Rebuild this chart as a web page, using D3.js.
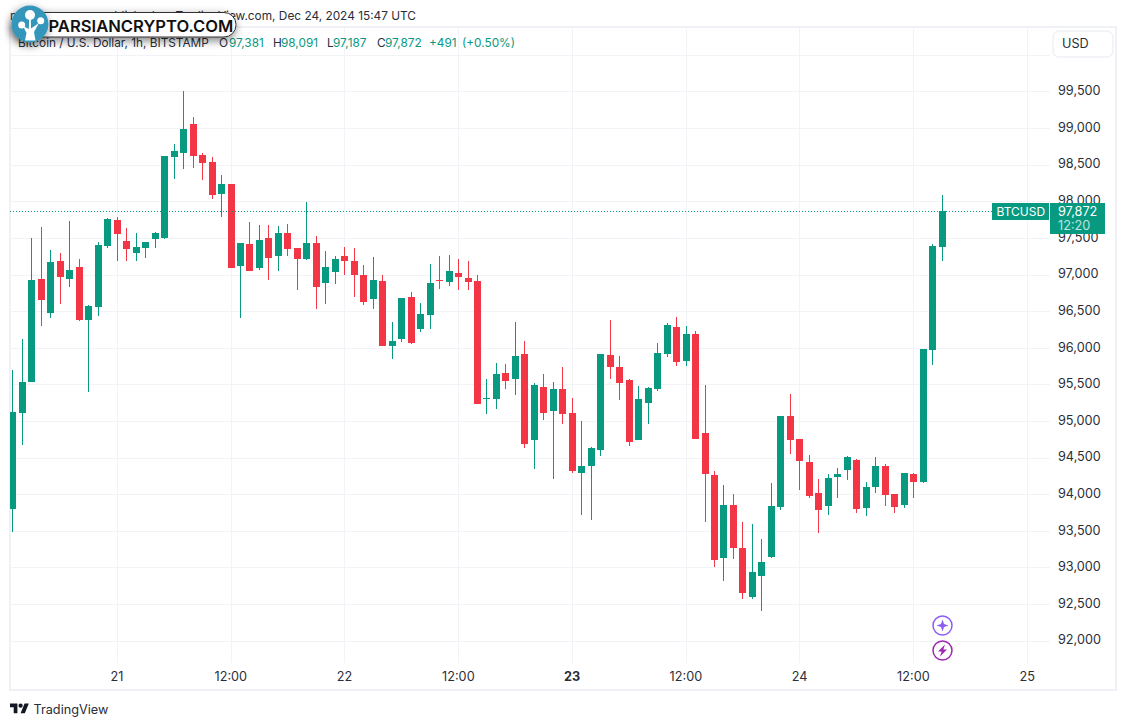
<!DOCTYPE html>
<html>
<head>
<meta charset="utf-8">
<script src="https://cdn.jsdelivr.net/npm/d3@7"></script>
<style>
html,body{margin:0;padding:0;background:#fff;}
svg{display:block;font-family:Inter,"Noto Sans",sans-serif;}
</style>
</head>
<body>
<svg id="chart" width="1127" height="726"></svg>
<script>
// hourly candles, first one is Dec 20 13:00 UTC
var startHour = Date.UTC(2024,11,20,13);

var opens = [93802,95113,95536,96939,96479,97185,96943,97103,96383,96561,97394,97745,97458,97298,97366,97489,97503,98609,98664,99056,
98632,98537,98104,98236,97121,97417,97093,97499,97257,97567,97362,97216,97431,96888,97039,97253,97185,96994,96670,96912,
96028,96124,96693,96260,96451,96925,96902,97021,96953,96912,95304,95304,95655,95577,95915,94744,95464,95140,95437,95109,
94294,94389,94608,95901,95737,95560,94744,95250,95441,95919,96283,95823,96188,94836,94262,93133,93853,93266,92600,92887,
93147,93829,95068,94754,94440,94017,93843,94239,94335,94467,93816,94103,94385,94003,93857,94276,94171,95973,97381];
var highs = [95696,96120,97499,97649,97335,97294,97731,97212,96584,97444,97770,97786,97635,97567,97450,97575,98625,98782,99506,99151,
98660,98605,98359,98240,97435,97717,97676,97676,97663,97690,97365,97990,97526,97321,97253,97376,97362,97130,97239,96994,
96352,96685,96761,96611,97144,97253,97267,97212,97185,96994,95573,95792,95778,96352,96092,95519,95642,95532,95737,95314,
95000,94645,95920,96379,95887,95573,95478,95464,96065,96338,96420,96297,96229,95491,94317,94126,94003,93621,93593,93388,
94153,95075,95368,94760,94535,94208,94276,94358,94522,94481,94167,94508,94413,94010,94295,94290,95988,97417,98091];
var lows = [93488,94676,95536,96301,96410,96602,96834,96369,95400,96438,97366,97189,97189,97189,97230,97366,97489,98309,98445,98459,
98295,98036,97790,97088,96410,97045,97066,96929,97052,97257,96793,97202,96533,96602,96875,96998,96697,96588,96533,96020,
95851,96083,96055,96219,96260,96806,96847,96793,96793,95230,95099,95168,95441,95359,94635,94348,95018,94212,94963,94294,
93720,93652,94526,95577,95291,94662,94738,94963,95414,95878,95755,95755,94752,93625,93010,92819,93119,92573,92573,92409,
93133,93789,94553,94062,93952,93474,93720,93952,94198,93747,93707,94021,93843,93747,93816,93952,94157,95769,97187];
var closes = [95123,95532,96925,96656,97171,96970,97062,96383,96570,97403,97758,97558,97353,97376,97444,97567,98619,98687,98987,98623,
98527,98090,98236,97093,97431,97052,97472,97230,97567,97353,97216,97431,96834,97103,97212,97189,96998,96629,96925,96028,
96092,96679,96069,96461,96884,96916,97048,96970,96902,95236,95314,95642,95550,95887,94690,95491,95113,95437,95099,94321,
94385,94631,95915,95741,95523,94717,95300,95450,95928,96311,95810,96188,94758,94280,93106,93853,93270,92655,92938,93074,
93839,95068,94744,94458,93980,93789,94221,94276,94508,93802,94098,94385,93993,93829,94290,94171,95983,97390,97872];

var priceTicks = [92000,92500,93000,93500,94000,94500,95000,95500,96000,96500,97000,97500,98000,98500,99000,99500];
var gridPrices = priceTicks.concat([100000]);
var timeTicks = [
    {t:Date.UTC(2024,11,21,0),  label:"21",    bold:false},
    {t:Date.UTC(2024,11,21,12), label:"12:00", bold:false},
    {t:Date.UTC(2024,11,22,0),  label:"22",    bold:false},
    {t:Date.UTC(2024,11,22,12), label:"12:00", bold:false},
    {t:Date.UTC(2024,11,23,0),  label:"23",    bold:true},
    {t:Date.UTC(2024,11,23,12), label:"12:00", bold:false},
    {t:Date.UTC(2024,11,24,0),  label:"24",    bold:false},
    {t:Date.UTC(2024,11,24,12), label:"12:00", bold:false},
    {t:Date.UTC(2024,11,25,0),  label:"25",    bold:false}
];
var lastPrice = 97872;
var legendNames = ["O","H","L","C"];
var legendValues = ["97,381","98,091","97,187","97,872"];

var UP = "#089981", DOWN = "#f23645", GRID = "#f2f3f6", TEXT = "#2a2e39";

var svg = d3.select("#chart");
var pane = {left:10, right:1050, top:27, bottom:663};

var xScale = d3.scaleUtc()
    .domain([new Date(Date.UTC(2024,11,21)), new Date(Date.UTC(2024,11,25))])
    .range([117.27, 1027.35]);
var yScale = d3.scaleLinear()
    .domain([92000,98000])
    .range([640.7,201.3]);

var candles = opens.map(function(o,i)
{
    return {t:new Date(startHour + i*3600000), o:o, h:highs[i], l:lows[i], c:closes[i]};
});

svg.append("defs").append("clipPath").attr("id","paneClip")
    .append("rect")
    .attr("x",pane.left).attr("y",pane.top)
    .attr("width",pane.right-pane.left).attr("height",pane.bottom-pane.top);

// outer frame
svg.append("rect")
    .attr("x",10).attr("y",27).attr("width",1106).attr("height",663)
    .attr("fill","none").attr("stroke","#f0f1f6").attr("stroke-width",2);

// grid
var grid = svg.append("g").attr("shape-rendering","crispEdges");
grid.selectAll(".h").data(gridPrices).enter().append("line")
    .attr("x1",pane.left).attr("x2",pane.right)
    .attr("y1",function(d){return Math.round(yScale(d))+0.5;})
    .attr("y2",function(d){return Math.round(yScale(d))+0.5;})
    .attr("stroke",GRID);
grid.selectAll(".v").data(timeTicks).enter().append("line")
    .attr("y1",pane.top).attr("y2",pane.bottom)
    .attr("x1",function(d){return Math.floor(xScale(new Date(d.t)))+0.5;})
    .attr("x2",function(d){return Math.floor(xScale(new Date(d.t)))+0.5;})
    .attr("stroke",GRID);

// price axis
var yAxis = d3.axisRight(yScale)
    .tickValues(priceTicks)
    .tickSize(0)
    .tickPadding(0)
    .tickFormat(d3.format(","));
var yG = svg.append("g").attr("transform","translate(1058,-0.8)").call(yAxis);
yG.select(".domain").remove();
yG.selectAll("text").attr("fill",TEXT).attr("font-size",12.7).attr("font-family","Inter");

// time axis
var xAxis = d3.axisBottom(xScale)
    .tickValues(timeTicks.map(function(d){return new Date(d.t);}))
    .tickSize(0)
    .tickPadding(0)
    .tickFormat(function(d,i){return timeTicks[i].label;});
var xG = svg.append("g").attr("transform","translate(-0.7,672)").call(xAxis);
xG.select(".domain").remove();
xG.selectAll("text").attr("fill",TEXT).attr("font-size",12.7).attr("font-family","Inter")
    .attr("font-weight",function(d,i){return timeTicks[i].bold?700:400;});

// candles
var plot = svg.append("g").attr("clip-path","url(#paneClip)").attr("shape-rendering","crispEdges");
var color = function(d){return d.c>=d.o?UP:DOWN;};
plot.selectAll(".wick").data(candles).enter().append("line")
    .attr("x1",function(d){return Math.floor(xScale(d.t))+0.5;})
    .attr("x2",function(d){return Math.floor(xScale(d.t))+0.5;})
    .attr("y1",function(d){return yScale(d.h);})
    .attr("y2",function(d){return yScale(d.l);})
    .attr("stroke",color);
plot.selectAll(".body").data(candles).enter().append("rect")
    .attr("x",function(d){return Math.floor(xScale(d.t))-3;})
    .attr("width",7)
    .attr("y",function(d){return Math.round(yScale(Math.max(d.o,d.c)));})
    .attr("height",function(d){return Math.max(1,Math.round(yScale(Math.min(d.o,d.c)))-Math.round(yScale(Math.max(d.o,d.c))));})
    .attr("fill",color);

// last price dotted line
var lastY = Math.round(yScale(lastPrice))+0.5;
svg.append("line")
    .attr("x1",pane.left).attr("x2",992).attr("y1",lastY).attr("y2",lastY)
    .attr("stroke",UP).attr("stroke-dasharray","1 2");

// header, sits under the logo
svg.append("text").attr("x",10).attr("y",20).attr("font-size",11.85).attr("fill",TEXT).text("m");
svg.append("text").attr("x",416).attr("y",20).attr("text-anchor","end").attr("font-size",11.85).attr("fill",TEXT)
    .text("published on TradingView.com, Dec 24, 2024 15:47 UTC");

// legend row
var legendFont = 11.8;
var addLegend = function(x,str,fill)
{
    svg.append("text").attr("x",x).attr("y",47).attr("font-size",legendFont).attr("fill",fill).text(str);
};
addLegend(18,"Bitcoin / U.S. Dollar, 1h, BITSTAMP",TEXT);
var nameX = [219,273,327,377], valueX = [229,281,333,385];
legendNames.forEach(function(n,i)
{
    addLegend(nameX[i],n,TEXT);
    addLegend(valueX[i],legendValues[i],UP);
});
addLegend(429,"+491",UP);
addLegend(462,"(+0.50%)",UP);

// USD button
svg.append("rect").attr("x",1053).attr("y",31).attr("width",60).attr("height",26).attr("rx",6)
    .attr("fill","#fff").attr("stroke","#f0f1f6").attr("stroke-width",1.5);
svg.append("text").attr("x",1062).attr("y",48).attr("font-size",12.7).attr("fill",TEXT).text("USD");

// last price labels
svg.append("rect").attr("x",992).attr("y",203).attr("width",57).attr("height",17).attr("fill",UP);
svg.append("text").attr("x",996.5).attr("y",216).attr("font-size",12).attr("fill","#fff").text("BTCUSD");
svg.append("rect").attr("x",1050).attr("y",203).attr("width",55).attr("height",31).attr("fill",UP);
svg.append("text").attr("x",1058).attr("y",216).attr("font-size",12.7).attr("fill","#fff").text(d3.format(",")(lastPrice));
svg.append("text").attr("x",1058).attr("y",229.5).attr("font-size",12.7).attr("fill","#fff").attr("fill-opacity",0.75).text("12:20");

// bottom icons
var star = svg.append("g").attr("transform","translate(942.5,625.5)");
star.append("circle").attr("r",9.5).attr("fill","#fff").attr("stroke","#8c5cf6").attr("stroke-width",1.5);
star.append("path").attr("d","M0,-6 L1.5,-1.5 L6,0 L1.5,1.5 L0,6 L-1.5,1.5 L-6,0 L-1.5,-1.5 Z").attr("fill","#8c5cf6");
var bolt = svg.append("g").attr("transform","translate(942.5,650.5)");
bolt.append("circle").attr("r",9.5).attr("fill","#fff").attr("stroke","#9c27b0").attr("stroke-width",1.5);
bolt.append("path").attr("d","M2.5,-6 L-4.5,1 L-0.8,1 L-2.5,6 L4.5,-1 L0.8,-1 Z").attr("fill","#9c27b0");

// TradingView mark
var tv = svg.append("g").attr("transform","translate(10,701.5) scale(0.53)");
tv.append("path").attr("d","M14 22H7V11H0V4h14v18zM28 22h-8l7.5-18h8L28 22z").attr("fill","#131722");
tv.append("circle").attr("cx",20).attr("cy",8).attr("r",4).attr("fill","#131722");
svg.append("text").attr("x",33.5).attr("y",714).attr("font-size",12.7).attr("fill",TEXT).text("TradingView");

// site logo on top
var blur = svg.select("defs").append("filter").attr("id","soft")
    .attr("x","-20%").attr("y","-60%").attr("width","140%").attr("height","240%");
blur.append("feDropShadow").attr("dx",-1).attr("dy",3).attr("stdDeviation",4).attr("flood-color","#000").attr("flood-opacity",0.5);

var logo = svg.append("g");
logo.append("rect").attr("x",14).attr("y",12.5).attr("width",222).attr("height",24.5).attr("rx",12)
    .attr("fill","#fff").attr("stroke","#333").attr("stroke-width",1).attr("filter","url(#soft)");
logo.append("text").attr("x",48.5).attr("y",31.5).attr("font-size",16.6).attr("font-weight",600)
    .attr("font-family","Inter").attr("fill","#111").text("PARSIANCRYPTO.COM");
logo.append("circle").attr("cx",30).attr("cy",24).attr("r",18.5).attr("fill","#3496bb").attr("filter","url(#soft)");
var tree = logo.append("g").attr("fill","#fff");
tree.append("path").attr("d","M25,40.5 L35.5,40.5 L34,32 L39,23 L31,28.5 L30.8,18 L29.2,18 L28.8,29 L23,26 L26.5,33 Z");
tree.append("circle").attr("cx",30).attr("cy",15).attr("r",5);
tree.append("circle").attr("cx",21.7).attr("cy",25).attr("r",3.5);
tree.append("circle").attr("cx",40.7).attr("cy",20.7).attr("r",3.5);
</script>
</body>
</html>
